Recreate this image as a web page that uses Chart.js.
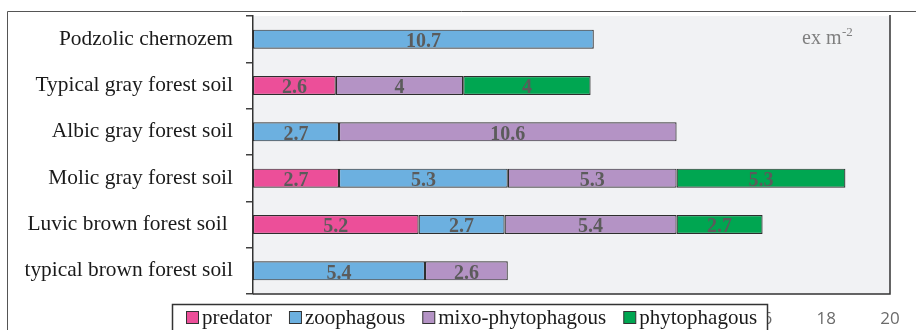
<!DOCTYPE html>
<html>
<head>
<meta charset="utf-8">
<script src="https://cdn.jsdelivr.net/npm/chart.js@4/dist/chart.umd.min.js"></script>
<style>
  html, body { margin: 0; padding: 0; background: #ffffff; }
  #wrap { width: 916px; height: 330px; }
</style>
</head>
<body>
<div id="wrap"><canvas id="chart" width="916" height="330"></canvas></div>
<script>
// Soil types (top to bottom)
const categories = [
  'Podzolic chernozem',
  'Typical gray forest soil',
  'Albic gray forest soil',
  'Molic gray forest soil',
  'Luvic brown forest soil ',
  'typical brown forest soil'
];

// Abundance by trophic group, ex m-2
const predator         = [null, 2.6, null, 2.7, 5.2, null];
const zoophagous       = [10.7, null, 2.7, 5.3, 2.7, 5.4];
const mixoPhytophagous = [null, 4,   10.6, 5.3, 5.4, 2.6];
const phytophagous     = [null, 4,   null, 5.3, 2.7, null];

const seriesNames = ['predator', 'zoophagous', 'mixo-phytophagous', 'phytophagous'];
const seriesColors = ['#ec4f99', '#6cb0e0', '#b493c5', '#00a651'];

// Value axis range and step
const xMin = 0;
const xMax = 20;
const xStep = 2;

const unitText = 'ex m';
const unitExp = '-2';

const serif = '"Liberation Serif", "Times New Roman", serif';

const seriesValues = [predator, zoophagous, mixoPhytophagous, phytophagous];
const datasets = seriesNames.map((name, i) => ({
  label: name,
  data: seriesValues[i],
  backgroundColor: seriesColors[i],
  borderColor: '#2e2e2e',
  borderWidth: 1.2,
  borderSkipped: false,
  barPercentage: 0.41,
  categoryPercentage: 1.0
}));

// Outer frame, plot background and plot frame
const framePlugin = {
  id: 'frame',
  beforeDraw(chart) {
    const { ctx, chartArea: a } = chart;
    ctx.save();
    ctx.fillStyle = '#ffffff';
    ctx.fillRect(0, 0, chart.width, chart.height);
    ctx.strokeStyle = '#555555';
    ctx.lineWidth = 1;
    ctx.beginPath();
    ctx.moveTo(7.5, chart.height);
    ctx.lineTo(7.5, 11.5);
    ctx.lineTo(chart.width, 11.5);
    ctx.stroke();
    ctx.fillStyle = '#f1f2f4';
    ctx.fillRect(a.left, a.top, a.right - a.left, a.bottom - a.top);
    ctx.restore();
  },
  beforeDatasetsDraw(chart) {
    const { ctx, chartArea: a } = chart;
    ctx.save();
    ctx.strokeStyle = '#333333';
    ctx.lineWidth = 1.5;
    ctx.beginPath();
    ctx.moveTo(a.left, a.bottom);
    ctx.lineTo(a.right, a.bottom);
    ctx.lineTo(a.right, a.top - 1);
    ctx.stroke();
    ctx.restore();
  }
};

// Value labels centred in each segment
const valueLabelPlugin = {
  id: 'valueLabels',
  afterDatasetsDraw(chart) {
    const { ctx } = chart;
    ctx.save();
    ctx.font = 'bold 20px ' + serif;
    ctx.fillStyle = '#5b5b5b';
    ctx.textAlign = 'center';
    ctx.textBaseline = 'alphabetic';
    chart.data.datasets.forEach((ds, di) => {
      const meta = chart.getDatasetMeta(di);
      meta.data.forEach((bar, i) => {
        const v = ds.data[i];
        if (v === null || v === undefined) return;
        const cx = (bar.x + bar.base) / 2;
        ctx.fillText(String(v), cx, bar.y + 7.8);
      });
    });
    ctx.restore();
  }
};

// Unit note in the upper right of the plot
const unitPlugin = {
  id: 'unit',
  afterDatasetsDraw(chart) {
    const { ctx } = chart;
    ctx.save();
    ctx.fillStyle = '#7f7f7f';
    ctx.textAlign = 'left';
    ctx.textBaseline = 'alphabetic';
    ctx.font = '20px ' + serif;
    const x0 = 802;
    const y0 = 43.5;
    ctx.fillText(unitText, x0, y0);
    const w = ctx.measureText(unitText).width;
    ctx.font = '13px ' + serif;
    ctx.fillText(unitExp, x0 + w + 0.5, y0 - 8);
    ctx.restore();
  }
};

// Boxed legend along the bottom, drawn over the value axis
const boxLegendPlugin = {
  id: 'boxLegend',
  afterDraw(chart) {
    const { ctx } = chart;
    ctx.save();
    const left = 172.5, top = 304.5, right = 767.5;
    ctx.fillStyle = '#ffffff';
    ctx.fillRect(left, top, right - left, chart.height - top + 2);
    ctx.strokeStyle = '#333333';
    ctx.lineWidth = 1.5;
    ctx.strokeRect(left, top, right - left, chart.height - top + 2);
    ctx.font = '21px ' + serif;
    ctx.textAlign = 'left';
    ctx.textBaseline = 'alphabetic';
    let x = 186;
    chart.data.datasets.forEach((ds) => {
      ctx.fillStyle = ds.backgroundColor;
      ctx.fillRect(x + 0.5, 311.5, 12, 12);
      ctx.strokeStyle = '#333333';
      ctx.lineWidth = 1;
      ctx.strokeRect(x + 0.5, 311.5, 12, 12);
      ctx.fillStyle = '#1a1a1a';
      ctx.fillText(ds.label, x + 16, 324);
      x += 16 + ctx.measureText(ds.label).width + 17;
    });
    ctx.restore();
  }
};

new Chart(document.getElementById('chart'), {
  type: 'bar',
  data: { labels: categories, datasets },
  plugins: [framePlugin, valueLabelPlugin, unitPlugin, boxLegendPlugin],
  options: {
    indexAxis: 'y',
    responsive: false,
    devicePixelRatio: 1,
    animation: false,
    layout: { padding: { top: 16, right: 26, left: 0, bottom: 0 } },
    plugins: {
      legend: { display: false },
      tooltip: { enabled: false }
    },
    scales: {
      x: {
        stacked: true,
        min: xMin,
        max: xMax,
        ticks: {
          stepSize: xStep,
          color: '#6b6b6b',
          font: { family: '"Open Sans", "Liberation Sans", sans-serif', size: 17 },
          padding: 15,
          maxRotation: 0
        },
        grid: { display: false, drawTicks: false },
        border: { display: false },
        afterFit(scale) {
          scale.height = 36;
          scale.paddingLeft = 0;
          scale.paddingRight = 0;
        }
      },
      y: {
        stacked: true,
        ticks: {
          color: '#1a1a1a',
          font: { family: serif, size: 21.4 },
          padding: 13
        },
        grid: {
          display: true,
          drawOnChartArea: false,
          drawTicks: true,
          tickLength: 7,
          color: '#404040',
          lineWidth: 1.5
        },
        border: { display: true, color: '#333333', width: 1.5 },
        afterFit(scale) {
          scale.width = 253;
          scale.paddingTop = 0;
          scale.paddingBottom = 0;
        }
      }
    }
  }
});
</script>
</body>
</html>
